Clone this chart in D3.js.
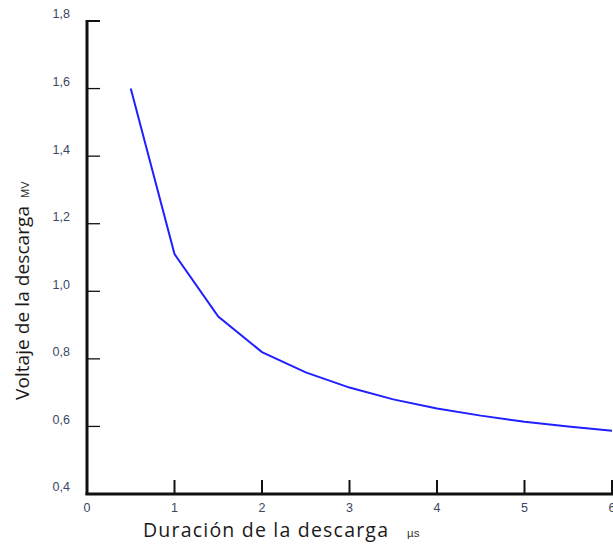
<!DOCTYPE html>
<html>
<head>
<meta charset="utf-8">
<script src="https://cdn.jsdelivr.net/npm/d3@7"></script>
<style>
  html, body { margin: 0; padding: 0; background: #fff; }
  svg { display: block; }
</style>
</head>
<body>
<svg id="chart" width="613" height="544"></svg>
<script>
// Discharge duration (µs) vs discharge voltage (MV)
const duration = [0.5, 1, 1.5, 2, 2.5, 3, 3.5, 4, 4.5, 5, 5.5, 6];
const voltage  = [1.6, 1.11, 0.925, 0.82, 0.76, 0.715, 0.68, 0.653, 0.632, 0.614, 0.6, 0.587];
const xTicks = [0, 1, 2, 3, 4, 5, 6];
const yTicks = [0.4, 0.6, 0.8, 1.0, 1.2, 1.4, 1.6, 1.8];

const svg = d3.select("#chart");
const x = d3.scaleLinear().domain([0, 6]).range([87, 612]);
const y = d3.scaleLinear().domain([0.4, 1.8]).range([494, 21]);
const fmt = d => d.toFixed(1).replace(".", ",");

// Y axis: line, inward ticks, labels sitting slightly above each tick
svg.append("line")
  .attr("x1", x(0)).attr("x2", x(0))
  .attr("y1", y(1.8) - 1).attr("y2", y(0.4) + 1)
  .attr("stroke", "#111").attr("stroke-width", 3);
svg.selectAll(".ytick").data(yTicks.filter(v => v > 0.4)).enter().append("line")
  .attr("x1", x(0)).attr("x2", x(0) + 13)
  .attr("y1", d => y(d)).attr("y2", d => y(d))
  .attr("stroke", "#111").attr("stroke-width", d => d === 1.8 ? 2 : 1.3);
svg.selectAll(".ylab").data(yTicks).enter().append("text")
  .attr("x", 70).attr("y", d => y(d) - 7)
  .attr("dy", "0.35em").attr("text-anchor", "end")
  .attr("font-family", "Liberation Sans, Arial, sans-serif")
  .attr("font-size", 12.5).attr("fill", "#3a4763")
  .text(fmt);

// X axis: line, upward ticks, labels below
svg.append("line")
  .attr("x1", x(0) - 1.5).attr("x2", 613)
  .attr("y1", y(0.4)).attr("y2", y(0.4))
  .attr("stroke", "#111").attr("stroke-width", 3);
svg.selectAll(".xtick").data(xTicks.filter(v => v > 0)).enter().append("line")
  .attr("x1", d => x(d)).attr("x2", d => x(d))
  .attr("y1", y(0.4)).attr("y2", y(0.4) - 14)
  .attr("stroke", "#111").attr("stroke-width", 2);
svg.selectAll(".xlab").data(xTicks).enter().append("text")
  .attr("x", d => x(d)).attr("y", 508)
  .attr("dy", "0.35em").attr("text-anchor", "middle")
  .attr("font-family", "Liberation Sans, Arial, sans-serif")
  .attr("font-size", 12.5).attr("fill", "#3a4763")
  .text(d => d);

// Curve
const line = d3.line().x((d, i) => x(duration[i])).y(d => y(d));
svg.append("path")
  .attr("d", line(voltage))
  .attr("fill", "none").attr("stroke", "#1f1fff").attr("stroke-width", 2);

// Axis titles
svg.append("text")
  .attr("x", 143).attr("y", 537)
  .attr("textLength", 245).attr("lengthAdjust", "spacing")
  .attr("font-family", "Open Sans, sans-serif").attr("font-size", 19.5).attr("fill", "#1a1a1a")
  .text("Duración de la descarga");
svg.append("text")
  .attr("x", 407).attr("y", 537)
  .attr("font-family", "Liberation Sans, Arial, sans-serif")
  .attr("font-size", 11.5).attr("fill", "#333")
  .text("µs");

svg.append("text")
  .attr("transform", "translate(29,400) rotate(-90)")
  .attr("textLength", 194).attr("lengthAdjust", "spacing")
  .attr("font-family", "Open Sans, sans-serif").attr("font-size", 19).attr("fill", "#1a1a1a")
  .text("Voltaje de la descarga");
svg.append("text")
  .attr("transform", "translate(29,198) rotate(-90)")
  .attr("font-family", "Liberation Sans, Arial, sans-serif")
  .attr("font-size", 11).attr("fill", "#333")
  .text("MV");
</script>
</body>
</html>
